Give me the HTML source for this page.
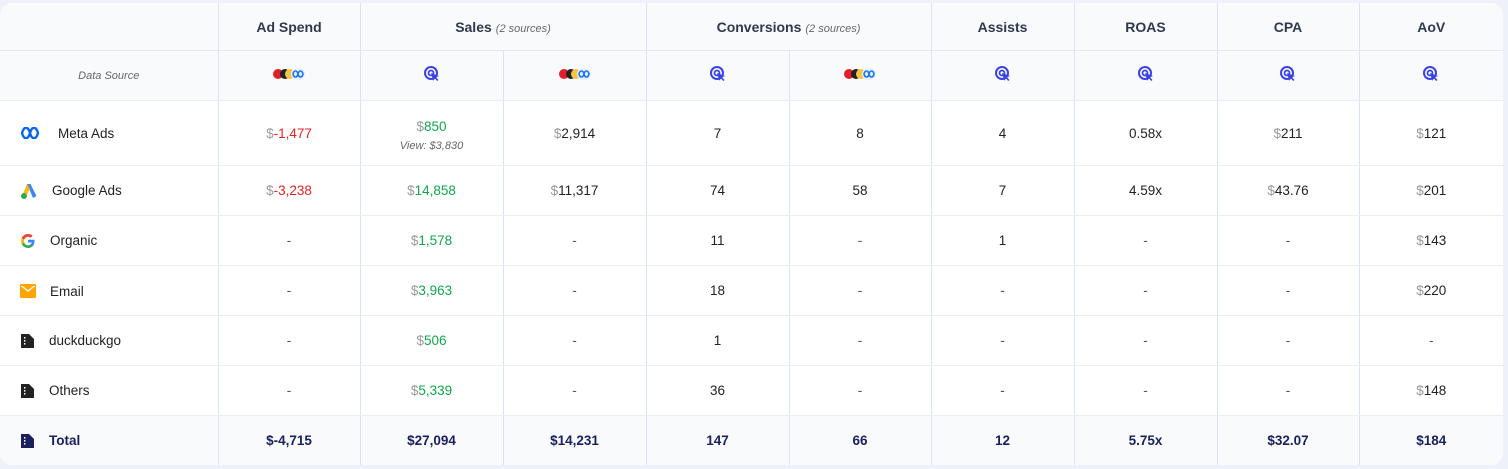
<!DOCTYPE html>
<html><head><meta charset="utf-8">
<style>
html,body{margin:0;padding:0;background:#eef1fa;width:1508px;height:469px;overflow:hidden;font-family:"Liberation Sans",sans-serif;}
.card{position:absolute;left:0;top:3px;width:1503px;height:462px;background:#fff;border-radius:12px;overflow:hidden;}
table{border-collapse:collapse;table-layout:fixed;width:1503px;}
td{border-right:1px solid #dbe3ee;border-bottom:1px solid #eaeef4;text-align:center;vertical-align:middle;padding:0;font-size:13.5px;color:#222;}
td:last-child{border-right:none;}
tr.h td{background:#f8fafc;font-weight:bold;color:#2f3a4c;font-size:14px;height:47px;border-bottom:1px solid #e2e8f0;}
tr.ds td{background:#f8fafc;height:49px;}
tr.r td{height:49px;}
tr.m td{height:60px;}
tr.t td{background:#f8fafc;height:49px;font-weight:bold;color:#1b1f5c;border-bottom:none;}
.sub{font-style:italic;font-weight:normal;color:#666;font-size:11px;margin-left:4px;}
.d{color:#999;}
.neg{color:#e02424;}
.pos{color:#16a34a;}
.ch{text-align:left;padding-left:20px;}
.ch svg{vertical-align:middle;margin-right:14px;}
.ch span{vertical-align:middle;}
.view{font-style:italic;color:#666;font-size:11px;display:block;margin-top:6px;}
.dash{color:#555;}
</style></head><body>
<div class="card">
<table>
<colgroup><col style="width:218px"><col style="width:142px"><col style="width:143px"><col style="width:143px"><col style="width:143px"><col style="width:142px"><col style="width:143px"><col style="width:143px"><col style="width:142px"><col style="width:144px"></colgroup>
<tr class="h"><td></td><td>Ad Spend</td><td colspan="2">Sales<span class="sub">(2 sources)</span></td><td colspan="2">Conversions<span class="sub">(2 sources)</span></td><td>Assists</td><td>ROAS</td><td>CPA</td><td>AoV</td></tr>
<tr class="ds">
<td style="font-style:italic;color:#666;font-size:11px;padding-left:0">Data Source</td>
<td><svg width="32" height="14" viewBox="0 0 32 14"><circle cx="5" cy="7" r="5" fill="#e0202a"/><circle cx="12" cy="7" r="5" fill="#222"/><circle cx="17" cy="7" r="5" fill="#f5c542"/><ellipse cx="25" cy="7" rx="7" ry="6" fill="#e8eefb"/><path d="M20 7c1-4 4-4 5 0s4 4 5 0c-1-4-4-4-5 0s-4 4-5 0z" fill="none" stroke="#1877f2" stroke-width="1.6"/></svg></td>
<td><svg width="16" height="16" viewBox="0 0 16 16"><circle cx="7" cy="7" r="6" fill="none" stroke="#3b42e0" stroke-width="2"/><circle cx="7" cy="7" r="2.5" fill="none" stroke="#3b42e0" stroke-width="1.8"/><path d="M7 7l8 3-3 1.2 2.5 2.8-1.3 1-2.4-2.8-1.4 2.5z" fill="#3b42e0"/></svg></td>
<td><svg width="32" height="14" viewBox="0 0 32 14"><circle cx="5" cy="7" r="5" fill="#e0202a"/><circle cx="12" cy="7" r="5" fill="#222"/><circle cx="17" cy="7" r="5" fill="#f5c542"/><ellipse cx="25" cy="7" rx="7" ry="6" fill="#e8eefb"/><path d="M20 7c1-4 4-4 5 0s4 4 5 0c-1-4-4-4-5 0s-4 4-5 0z" fill="none" stroke="#1877f2" stroke-width="1.6"/></svg></td>
<td><svg width="16" height="16" viewBox="0 0 16 16"><circle cx="7" cy="7" r="6" fill="none" stroke="#3b42e0" stroke-width="2"/><circle cx="7" cy="7" r="2.5" fill="none" stroke="#3b42e0" stroke-width="1.8"/><path d="M7 7l8 3-3 1.2 2.5 2.8-1.3 1-2.4-2.8-1.4 2.5z" fill="#3b42e0"/></svg></td>
<td><svg width="32" height="14" viewBox="0 0 32 14"><circle cx="5" cy="7" r="5" fill="#e0202a"/><circle cx="12" cy="7" r="5" fill="#222"/><circle cx="17" cy="7" r="5" fill="#f5c542"/><ellipse cx="25" cy="7" rx="7" ry="6" fill="#e8eefb"/><path d="M20 7c1-4 4-4 5 0s4 4 5 0c-1-4-4-4-5 0s-4 4-5 0z" fill="none" stroke="#1877f2" stroke-width="1.6"/></svg></td>
<td><svg width="16" height="16" viewBox="0 0 16 16"><circle cx="7" cy="7" r="6" fill="none" stroke="#3b42e0" stroke-width="2"/><circle cx="7" cy="7" r="2.5" fill="none" stroke="#3b42e0" stroke-width="1.8"/><path d="M7 7l8 3-3 1.2 2.5 2.8-1.3 1-2.4-2.8-1.4 2.5z" fill="#3b42e0"/></svg></td>
<td><svg width="16" height="16" viewBox="0 0 16 16"><circle cx="7" cy="7" r="6" fill="none" stroke="#3b42e0" stroke-width="2"/><circle cx="7" cy="7" r="2.5" fill="none" stroke="#3b42e0" stroke-width="1.8"/><path d="M7 7l8 3-3 1.2 2.5 2.8-1.3 1-2.4-2.8-1.4 2.5z" fill="#3b42e0"/></svg></td>
<td><svg width="16" height="16" viewBox="0 0 16 16"><circle cx="7" cy="7" r="6" fill="none" stroke="#3b42e0" stroke-width="2"/><circle cx="7" cy="7" r="2.5" fill="none" stroke="#3b42e0" stroke-width="1.8"/><path d="M7 7l8 3-3 1.2 2.5 2.8-1.3 1-2.4-2.8-1.4 2.5z" fill="#3b42e0"/></svg></td>
<td><svg width="16" height="16" viewBox="0 0 16 16"><circle cx="7" cy="7" r="6" fill="none" stroke="#3b42e0" stroke-width="2"/><circle cx="7" cy="7" r="2.5" fill="none" stroke="#3b42e0" stroke-width="1.8"/><path d="M7 7l8 3-3 1.2 2.5 2.8-1.3 1-2.4-2.8-1.4 2.5z" fill="#3b42e0"/></svg></td>
</tr>
<tr class="r m"><td class="ch"><svg width="20" height="12" viewBox="0 0 20 12" style="margin-right:18px"><path d="M2 6c2-7 6-7 8 0s6 7 8 0c-2-7-6-7-8 0s-6 7-8 0z" fill="none" stroke="#0a66e4" stroke-width="2.4"/></svg><span>Meta Ads</span></td>
<td><span class="d">$</span><span class="neg">-1,477</span></td>
<td style="padding-top:4px"><span class="d">$</span><span class="pos">850</span><span class="view">View: $3,830</span></td>
<td><span class="d">$</span>2,914</td><td>7</td><td>8</td><td>4</td><td>0.58x</td><td><span class="d">$</span>211</td><td><span class="d">$</span>121</td></tr>
<tr class="r"><td class="ch"><svg width="18" height="16" viewBox="0 0 18 16"><path d="M7 1l3.5 0 6 12-3.5 2z" fill="#4285f4"/><path d="M7 1l3 5-4.5 8-3-2z" fill="#fbbc04"/><circle cx="4" cy="13" r="3" fill="#34a853"/></svg><span>Google Ads</span></td>
<td><span class="d">$</span><span class="neg">-3,238</span></td><td><span class="d">$</span><span class="pos">14,858</span></td><td><span class="d">$</span>11,317</td><td>74</td><td>58</td><td>7</td><td>4.59x</td><td><span class="d">$</span>43.76</td><td><span class="d">$</span>201</td></tr>
<tr class="r"><td class="ch"><svg width="16" height="16" viewBox="0 0 16 16"><path d="M14.5 8.2c0-.5 0-1-.1-1.4H8v2.7h3.7c-.2.9-.7 1.6-1.4 2.1v1.7h2.3c1.2-1.2 1.9-2.9 1.9-5.1z" fill="#4285f4"/><path d="M8 15c1.9 0 3.5-.6 4.6-1.7l-2.3-1.7c-.6.4-1.4.7-2.3.7-1.8 0-3.3-1.2-3.8-2.8H1.8v1.8C3 13.5 5.3 15 8 15z" fill="#34a853"/><path d="M4.2 9.5c-.3-.9-.3-1.9 0-2.8V4.9H1.8c-1 1.9-1 4.4 0 6.4z" fill="#fbbc04"/><path d="M8 3.7c1 0 1.9.4 2.6 1l2-2C11.4 1.7 9.8 1 8 1 5.3 1 3 2.5 1.8 4.9l2.4 1.8C4.7 5 6.2 3.7 8 3.7z" fill="#ea4335"/></svg><span>Organic</span></td>
<td class="dash">-</td><td><span class="d">$</span><span class="pos">1,578</span></td><td class="dash">-</td><td>11</td><td class="dash">-</td><td>1</td><td class="dash">-</td><td class="dash">-</td><td><span class="d">$</span>143</td></tr>
<tr class="r"><td class="ch"><svg width="16" height="14" viewBox="0 0 16 14"><rect x="0" y="0" width="16" height="14" rx="1.5" fill="#ffa400"/><path d="M1.5 2l6.5 5 6.5-5" fill="none" stroke="#fff" stroke-width="1.4"/></svg><span>Email</span></td>
<td class="dash">-</td><td><span class="d">$</span><span class="pos">3,963</span></td><td class="dash">-</td><td>18</td><td class="dash">-</td><td class="dash">-</td><td class="dash">-</td><td class="dash">-</td><td><span class="d">$</span>220</td></tr>
<tr class="r"><td class="ch"><svg width="15" height="16" viewBox="0 0 15 16"><path d="M1 1h8l5 5v9H1z" fill="#222"/><rect x="4" y="4" width="1.4" height="1.6" fill="#fff"/><rect x="4" y="7" width="1.4" height="1.6" fill="#fff"/><rect x="4" y="10" width="1.4" height="1.6" fill="#fff"/></svg><span>duckduckgo</span></td>
<td class="dash">-</td><td><span class="d">$</span><span class="pos">506</span></td><td class="dash">-</td><td>1</td><td class="dash">-</td><td class="dash">-</td><td class="dash">-</td><td class="dash">-</td><td class="dash">-</td></tr>
<tr class="r"><td class="ch"><svg width="15" height="16" viewBox="0 0 15 16"><path d="M1 1h8l5 5v9H1z" fill="#222"/><rect x="4" y="4" width="1.4" height="1.6" fill="#fff"/><rect x="4" y="7" width="1.4" height="1.6" fill="#fff"/><rect x="4" y="10" width="1.4" height="1.6" fill="#fff"/></svg><span>Others</span></td>
<td class="dash">-</td><td><span class="d">$</span><span class="pos">5,339</span></td><td class="dash">-</td><td>36</td><td class="dash">-</td><td class="dash">-</td><td class="dash">-</td><td class="dash">-</td><td><span class="d">$</span>148</td></tr>
<tr class="t"><td class="ch"><svg width="15" height="16" viewBox="0 0 15 16"><path d="M1 1h8l5 5v9H1z" fill="#1b1f5c"/><rect x="4" y="4" width="1.4" height="1.6" fill="#fff"/><rect x="4" y="7" width="1.4" height="1.6" fill="#fff"/><rect x="4" y="10" width="1.4" height="1.6" fill="#fff"/></svg><span>Total</span></td>
<td>$-4,715</td><td>$27,094</td><td>$14,231</td><td>147</td><td>66</td><td>12</td><td>5.75x</td><td>$32.07</td><td>$184</td></tr>
</table>
</div>
</body></html>
